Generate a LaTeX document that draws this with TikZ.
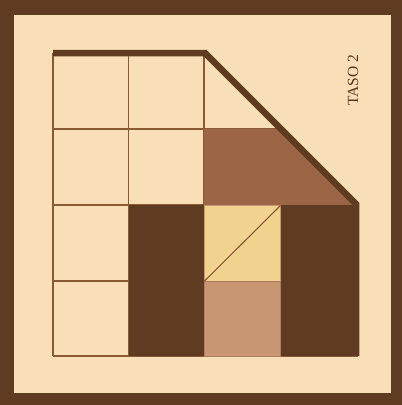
\documentclass[tikz,border=0pt]{standalone}
\usepackage{fontspec}
\setmainfont{Liberation Serif}
\definecolor{bgl}{HTML}{F9DFB8}
\definecolor{dkb}{HTML}{5E3B21}
\definecolor{mdb}{HTML}{9B6546}
\definecolor{yel}{HTML}{F1D28F}
\definecolor{tan}{HTML}{C99673}
\definecolor{gridc}{HTML}{8A5A35}
\tikzset{gridline/.style={draw=gridc,line width=1.1pt},
  thickline/.style={draw=dkb,line width=6.5pt,line join=miter,line cap=butt}}
\begin{document}
\begin{tikzpicture}[x=1pt,y=-1pt]
\useasboundingbox (0,0) rectangle (402,405);
% frame
\fill[dkb] (0,0) rectangle (402,405);
\fill[bgl] (14,15) rectangle (391,393);
% grid (clipped to the staircase outline)
\begin{scope}
\clip (52,53) -- (205,53) -- (357,205) -- (359,205) -- (359,357) -- (52,357) -- cycle;
\foreach \x in {53,128.5,204,279.5}{\draw[gridline] (\x,53) -- (\x,356);}
\foreach \y in {129,205,281,356}{\draw[gridline] (53,\y) -- (358,\y);}
\end{scope}
% coloured cells
\fill[mdb] (204,129) -- (281,129) -- (357,205) -- (204,205) -- cycle;
\fill[dkb] (129,205) rectangle (204,356);
\fill[dkb] (281,205) rectangle (358,356);
\filldraw[fill=yel,draw=tan,line width=1pt] (204.5,205.5) rectangle (280.5,281);
\filldraw[fill=tan,draw=tan!85!black,line width=1pt] (204.5,281.5) rectangle (280.5,356);
\draw[gridc,line width=1.1pt] (204.5,281) -- (280.5,205.5);
% thick outline
\draw[thickline] (53,53) -- (205,53) -- (356,204) -- (356,356);
% label
\node[rotate=90,text=dkb!90!black,font=\fontsize{15.5}{18}\selectfont,inner sep=0pt] (taso) at (353,80) {TASO 2};
\end{tikzpicture}
\end{document}
